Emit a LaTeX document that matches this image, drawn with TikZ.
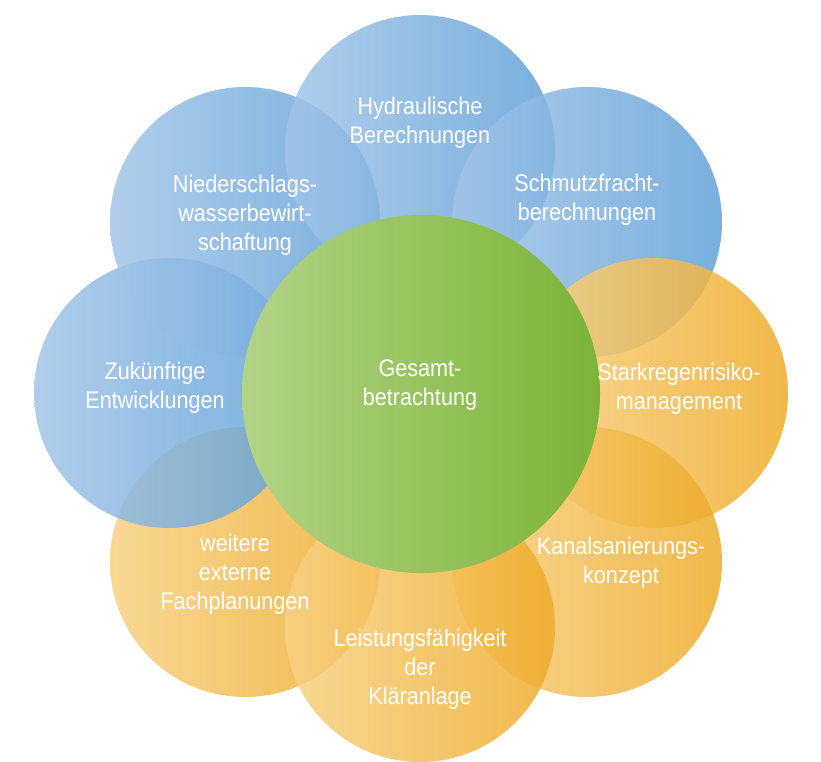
\documentclass[tikz,border=0pt]{standalone}
\usepackage{fontspec}
\usepackage{tikz}
\newfontfamily\diagfont[FakeStretch=0.9]{Liberation Sans}
\definecolor{blueL}{HTML}{A3C5E8}
\definecolor{blueR}{HTML}{62A2D8}
\definecolor{orangeL}{HTML}{F8D284}
\definecolor{orangeR}{HTML}{EEAC2A}
\definecolor{greenL}{HTML}{B3D386}
\definecolor{greenR}{HTML}{7BB437}

\begin{document}
\begin{tikzpicture}[x=1pt, y=-1pt,
            every node/.style={inner sep=0pt}]
            \tikzstyle{petal} = [circle, minimum size=270pt, shading=axis,
                                 shading angle=90, fill opacity=0.85]
            \tikzstyle{bluePetal} = [petal, left color=blueL, right color=blueR]
            \tikzstyle{orangePetal} = [petal, left color=orangeL, right color=orangeR]
            \tikzstyle{label} = [align=center, text=white,
                                 font=\diagfont\fontsize{24}{29}\selectfont]
            \useasboundingbox (0,0) rectangle (821,762);
            \fill[white] (0,0) rectangle (821,762);
            % outer petals
            \node[orangePetal] (6) at (245,562) {};
            \node[bluePetal]   (7) at (169,393) {};
            \node[bluePetal]   (8) at (245,222) {};
            \node[bluePetal]   (1) at (420,150) {};
            \node[bluePetal]   (2) at (587,222) {};
            \node[orangePetal] (3) at (653,393) {};
            \node[orangePetal] (4) at (587,562) {};
            \node[orangePetal] (5) at (420,627) {};
            % centre
            \node[circle, minimum size=358pt, shading=axis, shading angle=90,
                  left color=greenL, right color=greenR] (0) at (421,394) {};
            % texts
            \node[label] (t0) at (420,385) {Gesamt-\\betrachtung};
            \node[label] (t1) at (420,123) {Hydraulische\\Berechnungen};
            \node[label] (t2) at (587,200) {Schmutzfracht-\\berechnungen};
            \node[label] (t3) at (679,389) {Starkregenrisiko-\\management};
            \node[label] (t4) at (621,563) {Kanalsanierungs-\\konzept};
            \node[label] (t5) at (420,669) {Leistungsfähigkeit\\der\\Kläranlage};
            \node[label] (t6) at (235,574) {weitere\\externe\\Fachplanungen};
            \node[label] (t7) at (155,388) {Zukünftige\\Entwicklungen};
            \node[label] (t8) at (245,215) {Niederschlags-\\wasserbewirt-\\schaftung};
        \end{tikzpicture}
\end{document}
